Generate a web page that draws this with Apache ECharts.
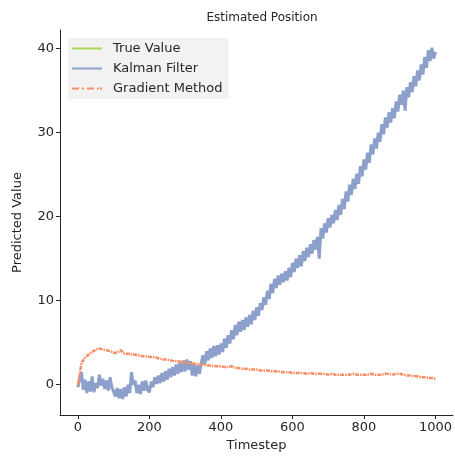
<!DOCTYPE html>
<html>
<head>
<meta charset="utf-8">
<script src="https://cdn.jsdelivr.net/npm/echarts@6/dist/echarts.min.js"></script>
<style>
body{
	margin:0;
	background:#ffffff;
}
#chart{
	width:455px;
	height:461px;
}
</style>
</head>
<body>
<div id="chart"></div>
<script type="text/javascript">
// timesteps
var trueSteps = [0,10,20,30,40,50,60,70,80,90,100,110,120,130,140,150,160,170,180,190,200,210,220,230,240,250,260,270,280,290,300,310,320,330,340,350,360,370,380,390,400,410,420,430,440,450,460,470,480,490,500,510,520,530,540,550,560,570,580,590,600,610,620,630,640,650,660,670,680,690,700,710,720,730,740,750,760,770,780,790,800,810,820,830,840,850,860,870,880,890,900,910,920,930,940,950,960,970,980,990,1000];
var trueValue = [0,1.0,0.0,-0.2,0.2,-0.3,0.5,0.2,0.0,0.3,-0.6,-0.9,-1.0,-0.8,-0.5,0.6,-0.2,-0.5,-0.2,0.0,-0.3,0.2,0.5,0.7,0.9,1.1,1.3,1.6,1.8,2.0,2.1,2.3,2.0,1.7,1.8,3.0,3.4,3.6,3.9,4.0,4.3,4.8,5.2,5.8,6.4,6.8,7.0,7.3,7.6,8.1,8.5,9.0,9.6,10.4,11.2,11.8,12.3,12.6,12.8,13.2,13.8,14.3,14.7,15.2,15.6,16.0,16.5,16.9,17.8,18.5,19.1,19.5,20.0,20.6,21.3,22.2,23.0,23.7,24.3,25.2,26.0,26.8,27.8,28.5,29.2,30.2,31.0,31.6,32.1,32.9,33.7,34.2,34.6,35.2,35.9,36.6,37.3,38.2,39.0,39.4,39.3];

var kalmanSteps = [0,5,10,15,20,25,30,35,40,45,50,55,60,65,70,75,80,85,90,95,100,105,110,115,120,125,130,135,140,145,150,155,160,165,170,175,180,185,190,195,200,205,210,215,220,225,230,235,240,245,250,255,260,265,270,275,280,285,290,295,300,305,310,315,320,325,330,335,340,345,350,355,360,365,370,375,380,385,390,395,400,405,410,415,420,425,430,435,440,445,450,455,460,465,470,475,480,485,490,495,500,505,510,515,520,525,530,535,540,545,550,555,560,565,570,575,580,585,590,595,600,605,610,615,620,625,630,635,640,645,650,655,660,665,670,675,680,685,690,695,700,705,710,715,720,725,730,735,740,745,750,755,760,765,770,775,780,785,790,795,800,805,810,815,820,825,830,835,840,845,850,855,860,865,870,875,880,885,890,895,900,905,910,915,920,925,930,935,940,945,950,955,960,965,970,975,980,985,990,995,1000];
var kalman = [-0.3,0.7,1.5,-0.6,0.6,-1.0,0.4,-0.8,1.0,-0.9,0.2,-0.4,1.2,-0.1,0.7,-0.5,0.5,-0.7,0.9,-0.3,
	-0.2,-1.4,-0.4,-1.6,-0.5,-1.7,-0.3,-1.4,0.0,-1.0,1.5,0.0,0.5,-1.0,0.0,-1.1,0.4,-0.7,0.5,-0.6,
	-0.9,0.4,-0.3,0.9,0.1,1.1,0.2,1.4,0.4,1.6,0.6,1.9,0.9,2.1,1.1,2.4,1.3,2.6,1.5,2.9,
	1.6,3.0,1.8,2.8,1.1,2.5,1.0,2.3,1.3,2.6,3.5,2.4,4.0,2.9,4.3,3.2,4.6,3.4,4.7,3.6,
	4.9,3.9,5.5,4.4,5.9,4.9,6.5,5.4,7.1,5.9,7.5,6.3,7.7,6.5,8.0,6.9,8.3,7.2,8.8,7.7,
	9.2,8.2,9.7,8.9,10.4,9.5,11.2,10.2,12.0,10.9,12.6,11.5,13.0,11.9,13.2,12.2,13.5,12.4,13.9,12.8,
	14.5,13.4,15.0,13.9,15.4,14.1,15.9,14.7,16.3,15.2,16.7,15.6,17.2,16.1,17.6,15.0,18.6,17.4,19.2,18.1,
	19.8,18.7,20.2,19.2,20.8,19.6,21.4,20.2,22.1,20.9,23.0,21.8,23.8,22.6,24.5,23.3,25.1,23.9,26.0,24.8,
	26.8,25.6,27.6,26.4,28.6,27.4,29.3,28.1,30.0,28.9,31.0,29.8,31.8,30.6,32.4,31.2,32.9,31.7,33.7,32.5,
	34.5,33.3,35.0,32.6,35.4,34.2,36.0,34.8,36.7,35.5,37.4,36.2,38.1,36.9,39.0,37.7,39.8,38.5,40.1,38.8,
	39.6];

var gradSteps = [0,5,10,20,30,40,50,60,70,80,90,100,110,120,130,140,150,160,170,180,190,200,210,220,230,240,250,260,270,280,290,300,310,320,330,340,350,360,370,380,390,400,410,420,430,440,450,460,470,480,490,500,510,520,530,540,550,560,570,580,590,600,610,620,630,640,650,660,670,680,690,700,710,720,730,740,750,760,770,780,790,800,810,820,830,840,850,860,870,880,890,900,910,920,930,940,950,960,970,980,990,1000];
var gradient = [0.0,1.2,2.6,3.2,3.6,3.9,4.2,4.3,4.2,4.1,4.0,3.8,3.8,4.1,3.7,3.7,3.6,3.6,3.5,3.4,3.4,3.3,3.3,3.2,3.1,3.0,3.0,2.9,2.8,2.8,2.7,2.6,2.6,2.5,2.5,2.4,2.4,2.3,2.3,2.2,2.2,2.2,2.1,2.1,2.2,2.0,2.0,1.9,1.9,1.8,1.8,1.8,1.7,1.7,1.7,1.6,1.6,1.6,1.5,1.5,1.5,1.4,1.4,1.4,1.4,1.3,1.4,1.3,1.3,1.3,1.3,1.2,1.3,1.2,1.2,1.2,1.2,1.2,1.3,1.2,1.2,1.2,1.2,1.3,1.2,1.2,1.2,1.3,1.3,1.2,1.3,1.3,1.2,1.1,1.1,1.0,1.0,0.9,0.9,0.8,0.8,0.7];

var xTicks = [0,200,400,600,800,1000];
var yTicks = [0,10,20,30,40];

function pairs(xs, ys){
	var out = [];
	for (var i = 0; i < xs.length; i++) out.push([xs[i], ys[i]]);
	return out;
}

var font = 'DejaVu Sans';
var solidIcon = 'path://M0,0H30V2H0Z';
var dashDotIcon = 'path://M0,0H7V2H0Z M10,0H12V2H10Z M15,0H22V2H15Z M25,0H27V2H25Z M28,0H30V2H28Z';

var chart = echarts.init(document.getElementById('chart'));
chart.setOption({
	animation: false,
	backgroundColor: '#ffffff',
	title: {
		text: 'Estimated Position',
		left: 257, top: 7, textAlign: 'center',
		textStyle: {fontFamily: font, fontSize: 12, fontWeight: 'normal', color: '#262626'}
	},
	legend: {
		left: 68, top: 38,
		orient: 'vertical',
		backgroundColor: 'rgba(234,234,234,0.6)',
		padding: [4, 6, 4, 4],
		itemWidth: 30, itemHeight: 14, itemGap: 7,
		textStyle: {fontFamily: font, fontSize: 13, color: '#262626', padding: [0, 0, 0, 6]},
		data: [
			{name: 'True Value', icon: solidIcon},
			{name: 'Kalman Filter', icon: solidIcon},
			{name: 'Gradient Method', icon: dashDotIcon}
		]
	},
	grid: {left: 60, right: 0, top: 30, bottom: 46},
	xAxis: {
		type: 'value', min: -50, max: 1049,
		name: 'Timestep', nameLocation: 'middle', nameGap: 24,
		nameTextStyle: {fontFamily: font, fontSize: 13, color: '#262626'},
		axisLine: {show: true, onZero: false, lineStyle: {color: '#262626', width: 1}},
		axisTick: {show: true, length: 4, customValues: xTicks, lineStyle: {color: '#262626'}},
		axisLabel: {fontFamily: font, fontSize: 13, color: '#262626', margin: 6, customValues: xTicks,
			formatter: function (v) { return String(v); }},
		splitLine: {show: false}
	},
	yAxis: {
		type: 'value', min: -3.6, max: 42.2,
		name: 'Predicted Value', nameLocation: 'middle', nameGap: 36,
		nameTextStyle: {fontFamily: font, fontSize: 13, color: '#262626'},
		axisLine: {show: true, onZero: false, lineStyle: {color: '#262626', width: 1}},
		axisTick: {show: true, length: 4, customValues: yTicks, lineStyle: {color: '#262626'}},
		axisLabel: {fontFamily: font, fontSize: 13, color: '#262626', margin: 6, customValues: yTicks,
			formatter: function (v) { return String(v); }},
		splitLine: {show: false}
	},
	series: [
		{
			name: 'True Value', type: 'line', symbol: 'none',
			data: pairs(trueSteps, trueValue),
			lineStyle: {color: '#a6d854', width: 1.5},
			itemStyle: {color: '#a6d854'}
		},
		{
			name: 'Kalman Filter', type: 'line', symbol: 'none',
			data: pairs(kalmanSteps, kalman),
			lineStyle: {color: '#8da0cb', width: 3},
			itemStyle: {color: '#8da0cb'}
		},
		{
			name: 'Gradient Method', type: 'line', symbol: 'none',
			data: pairs(gradSteps, gradient),
			lineStyle: {color: '#fc8d62', width: 2.5, type: [4, 1, 1.5, 1]},
			itemStyle: {color: '#fc8d62'}
		}
	]
});
</script>
</body>
</html>
